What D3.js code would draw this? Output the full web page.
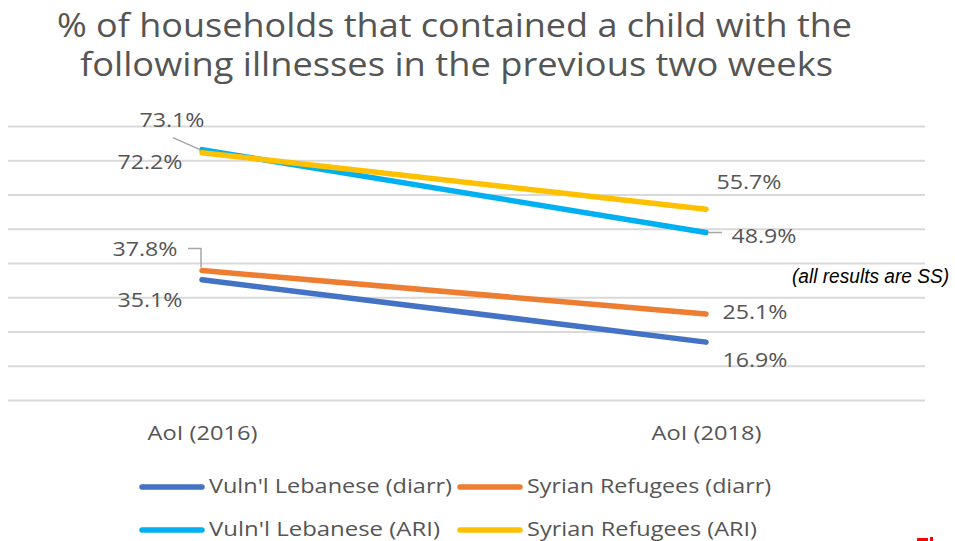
<!DOCTYPE html>
<html>
<head>
<meta charset="utf-8">
<script src="https://cdn.jsdelivr.net/npm/d3@7"></script>
<style>
  html, body { margin: 0; padding: 0; background: #fff; }
  svg { display: block; }
</style>
</head>
<body>
<svg id="chart" width="955" height="541"></svg>
<script>
// ---- Data ----
const titleLines = ["% of households that contained a child with the", "following illnesses in the previous two weeks"];
const categories = ["AoI (2016)", "AoI (2018)"];
const seriesNames = ["Vuln'l Lebanese (diarr)", "Syrian Refugees (diarr)", "Vuln'l Lebanese (ARI)", "Syrian Refugees (ARI)"];
const vulnDiarr = [35.1, 16.9];
const syrianDiarr = [37.8, 25.1];
const vulnARI = [73.1, 48.9];
const syrianARI = [72.2, 55.7];
const gridTicks = [0, 10, 20, 30, 40, 50, 60, 70, 80];
const note = "(all results are SS)";

// ---- Styles / layout ----
const colors = ["#4472C4", "#ED7D31", "#00B0F0", "#FFC000"];
const seriesValues = [vulnDiarr, syrianDiarr, vulnARI, syrianARI];
const textColor = "#555555";
const font = "'Open Sans', sans-serif";

// label offsets [dx, dy] from the data point, per series per category
const labelOffsets = [
  [[-52, 27], [49, 25]],
  [[-57, -15], [49, 5]],
  [[-30, -23], [58, 10]],
  [[-52, 16], [43, -20]]
];
const legendWidths = [243, 244, 231, 230];

const svg = d3.select("#chart");

const x = d3.scalePoint().domain(categories).range([202, 706]);
const y = d3.scaleLinear().domain([0, 80]).range([400, 126]);

function fit(sel, widthFn) {
  sel.each(function(d, i) {
    d3.select(this).attr("textLength", widthFn(d, i)).attr("lengthAdjust", "spacingAndGlyphs");
  });
}

// Title
const title = svg.append("g").selectAll("text").data(titleLines).join("text")
  .attr("x", (d, i) => i === 0 ? 57 : 80)
  .attr("y", (d, i) => i === 0 ? 37 : 76)
  .attr("font-family", font)
  .attr("font-size", 32)
  .attr("fill", textColor)
  .text(d => d);
fit(title, (d, i) => i === 0 ? 795 : 753);

// Gridlines
const grid = svg.append("g").attr("transform", "translate(8,0)")
  .call(d3.axisLeft(y).tickValues(gridTicks).tickSize(-917).tickFormat(""));
grid.select(".domain").remove();
grid.selectAll(".tick line").attr("stroke", "#d9d9d9").attr("stroke-width", 2);

// Category labels
const xAxis = svg.append("g").attr("transform", "translate(0,440)")
  .call(d3.axisBottom(x).tickSize(0).tickPadding(0));
xAxis.select(".domain").remove();
xAxis.selectAll("text")
  .attr("font-family", font).attr("font-size", 20).attr("fill", textColor)
  .attr("dy", 0);
fit(xAxis.selectAll("text"), () => 110);

// Lines
const line = d3.line().x((d, i) => x(categories[i])).y(d => y(d));
svg.append("g").selectAll("path").data(seriesValues).join("path")
  .attr("d", d => line(d))
  .attr("fill", "none")
  .attr("stroke", (d, i) => colors[i])
  .attr("stroke-width", 5.5)
  .attr("stroke-linecap", "round");

// Leader lines
const lg = svg.append("g").attr("stroke", "#a6a6a6").attr("stroke-width", 1.5).attr("fill", "none");
{
  const px = x(categories[0]), py = y(vulnARI[0]);
  lg.append("path").attr("d", `M${px - 29},${py - 12}L${px - 2},${py}`);
  const qx = x(categories[0]), qy = y(syrianDiarr[0]);
  lg.append("path").attr("d", `M${qx - 14},${qy - 22}H${qx - 1}V${qy - 3}`);
  const rx = x(categories[1]), ry = y(vulnARI[1]);
  lg.append("path").attr("d", `M${rx + 2},${ry}H${rx + 16}`);
}

// Data labels
const labels = [];
seriesValues.forEach((vals, s) => vals.forEach((v, c) => labels.push({ v, s, c })));
const lab = svg.append("g").selectAll("text").data(labels).join("text")
  .attr("x", d => x(categories[d.c]) + labelOffsets[d.s][d.c][0])
  .attr("y", d => y(d.v) + labelOffsets[d.s][d.c][1])
  .attr("text-anchor", "middle")
  .attr("font-family", font).attr("font-size", 20).attr("fill", textColor)
  .text(d => d.v.toFixed(1) + "%");
fit(lab, () => 65);

// Note
const noteText = svg.append("text")
  .attr("x", 792).attr("y", 283)
  .attr("font-family", "'Liberation Sans', Arial, sans-serif")
  .attr("font-style", "italic").attr("font-size", 20).attr("fill", "#000")
  .text(note);
fit(noteText, () => 157);

// Legend
const legendPos = [[142, 487], [460, 487], [142, 530], [460, 530]];
const leg = svg.append("g").selectAll("g").data(seriesNames).join("g")
  .attr("transform", (d, i) => `translate(${legendPos[i][0]},${legendPos[i][1]})`);
leg.append("line").attr("x1", 0).attr("x2", 60).attr("y1", 0).attr("y2", 0)
  .attr("stroke", (d, i) => colors[i]).attr("stroke-width", 5.5).attr("stroke-linecap", "round");
const legText = leg.append("text").attr("x", 67).attr("y", 6)
  .attr("font-family", font).attr("font-size", 19.5).attr("fill", textColor)
  .text(d => d);
fit(legText, (d, i) => legendWidths[i]);

// Cut-off red mark at bottom right (top of a clipped caption)
svg.append("rect").attr("x", 917).attr("y", 538).attr("width", 11).attr("height", 3).attr("fill", "#ff0000");
svg.append("rect").attr("x", 930).attr("y", 537).attr("width", 3).attr("height", 4).attr("fill", "#ff0000");
</script>
</body>
</html>
